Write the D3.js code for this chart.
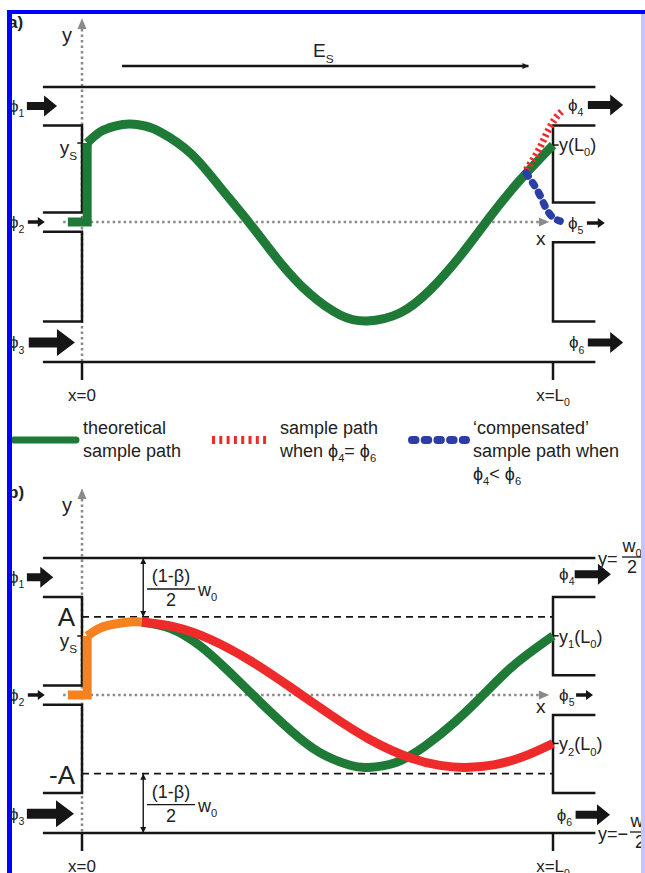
<!DOCTYPE html>
<html>
<head>
<meta charset="utf-8">
<script src="https://cdn.jsdelivr.net/npm/d3@7"></script>
<style>
  body { margin: 0; background: #fff; }
  svg { display: block; }
  text { font-family: "Liberation Sans", Arial, Helvetica, sans-serif; fill: #222; }
</style>
</head>
<body>
<script>
// x in % of L0, y in % of w0/2 (channel centre = 0)
var wallY = [100, -100]
var wallX = [-8.3, 109]
var inletBlocks = [[71.5, 7], [-7, -71]]
var outletBlocks = [[71.5, 14.5], [-14.5, -71]]
var fluxLevels = [86, 0, -86]
var inletNames = ['1', '2', '3']
var outletNames = ['4', '5', '6']
var ampA = 57

// panel a paths
var stemA = [[-3, 0], [1.1, 0], [1.1, 58.5]]
var theoryA = [[1.1, 58.5], [3.8, 66.7], [7.0, 71.1], [10.2, 72.6], [13.4, 71.1], [16.6, 66.7], [23.0, 51.1],
  [29.3, 25.9], [35.7, -1.4], [42.0, -28.6], [48.4, -51.4], [54.8, -66.4], [60.5, -70.7], [67.5, -65.0],
  [73.9, -48.6], [80.3, -24.3], [86.6, 3.7], [93.0, 31.1], [100, 57.0]]
var equalA = [[94.3, 38.5], [96.6, 51.1], [98.3, 63.0], [99.6, 71.9], [100.9, 78.5], [102.2, 83.0]]
var compA = [[94.3, 36.3], [96.0, 27.4], [97.3, 19.3], [98.5, 10.4], [99.9, 3.7], [101.5, 0.7]]

// panel b paths
var stemB = [[-3, 0], [1.1, 0], [1.1, 43.1]]
var entryB = [[1.1, 43.1], [3.8, 48.9], [7.0, 51.8], [10.2, 53.3], [12.7, 53.3]]
var pathB1 = [[12.7, 53.3], [18.7, 48.7], [25.1, 35.8], [31.4, 16.4], [37.8, -5.0], [44.2, -25.4], [50.5, -41.7],
  [56.9, -50.9], [60.7, -52.5], [66.5, -49.1], [72.8, -37.1], [79.2, -19.5], [85.6, 1.5], [91.9, 22.4], [100, 43.2]]
var pathB2 = [[12.7, 53.3], [19.8, 49.6], [27.2, 40.7], [35.7, 25.1], [44.2, 5.8], [52.7, -14.2], [61.1, -32.2],
  [69.6, -45.4], [76.0, -51.0], [81.3, -52.5], [87.7, -50.4], [94.1, -44.1], [100, -35.1]]

var legendLabels = [['theoretical', 'sample path'], ['sample path', 'when ϕ4= ϕ6'], ['\u2018compensated\u2019', 'sample path when', 'ϕ4< ϕ6']]

var ink = '#161616', green = '#1f7a37', red = '#ee2a2a', orange = '#f58220', blue = '#2c3ea6', grey = '#8a8a8a'

var svg = d3.select('body').append('svg').attr('width', 645).attr('height', 873)

var xs = d3.scaleLinear().domain([0, 100]).range([82, 553])
var yA = d3.scaleLinear().domain([-100, 0, 100]).range([362, 222, 87])
var yB = d3.scaleLinear().domain([-100, 0, 100]).range([833, 695, 558])

var defs = svg.append('defs')
defs.append('marker').attr('id', 'tip').attr('viewBox', '0 0 10 10').attr('refX', 10).attr('refY', 5)
  .attr('markerWidth', 7).attr('markerHeight', 6).attr('markerUnits', 'userSpaceOnUse')
  .attr('orient', 'auto-start-reverse')
  .append('path').attr('d', 'M0,0L10,5L0,10Z').attr('fill', ink)

// subscript-aware text
function rich(g, x, y, parts, fs, anchor) {
  var t = g.append('text').attr('x', x).attr('y', y).attr('font-size', fs).attr('text-anchor', anchor || 'start')
  var down = false
  parts.forEach(function (p) {
    var ts = t.append('tspan').text(p[0])
    if (p[1]) {
      ts.attr('font-size', fs * 0.62)
      if (!down) { ts.attr('dy', fs * 0.3); down = true }
    } else if (down) { ts.attr('dy', -fs * 0.3); down = false }
  })
  return t
}
function phiParts(s) { return [['ϕ', 0], [s, 1]] }

var arrowSizes = { small: [3.5, 7, 10], big: [8, 13, 21], huge: [10, 18, 27] }
function fluxArrow(g, x0, x1, cy, size) {
  var s = arrowSizes[size]
  var pts = [[x0, cy - s[0] / 2], [x1 - s[1], cy - s[0] / 2], [x1 - s[1], cy - s[2] / 2], [x1, cy],
    [x1 - s[1], cy + s[2] / 2], [x1 - s[1], cy + s[0] / 2], [x0, cy + s[0] / 2]]
  g.append('path').attr('d', d3.line()(pts) + 'Z').attr('fill', ink)
}

function drawPanel(p) {
  var y = p.y
  var g = svg.append('g')
  var line = d3.line().x(function (d) { return xs(d[0]) }).y(function (d) { return y(d[1]) })
  var smooth = d3.line().x(function (d) { return xs(d[0]) }).y(function (d) { return y(d[1]) })
    .curve(d3.curveNatural)

  // dotted axes
  g.append('line').attr('x1', xs(0)).attr('x2', xs(0)).attr('y1', y(143)).attr('y2', y(-100))
    .attr('stroke', grey).attr('stroke-width', 2.5).attr('stroke-dasharray', '2.5 3')
  g.append('path').attr('d', 'M' + (xs(0) - 4.5) + ',' + y(143) + 'L' + xs(0) + ',' + y(151) + 'L' + (xs(0) + 4.5) + ',' + y(143) + 'Z')
    .attr('fill', grey)
  g.append('line').attr('x1', xs(-4)).attr('x2', xs(97)).attr('y1', y(0)).attr('y2', y(0))
    .attr('stroke', grey).attr('stroke-width', 2.5).attr('stroke-dasharray', '2.5 3')
  g.append('path').attr('d', 'M' + xs(97) + ',' + (y(0) - 4.5) + 'L' + xs(99.2) + ',' + y(0) + 'L' + xs(97) + ',' + (y(0) + 4.5) + 'Z')
    .attr('fill', grey)

  // channel walls and electrode blocks
  g.selectAll('.wall').data(wallY).enter().append('line')
    .attr('x1', xs(wallX[0])).attr('x2', xs(wallX[1]))
    .attr('y1', function (d) { return y(d) }).attr('y2', function (d) { return y(d) })
    .attr('stroke', ink).attr('stroke-width', 2.5)
  g.selectAll('.inlet').data(inletBlocks).enter().append('path')
    .attr('d', function (d) { return 'M' + xs(wallX[0]) + ',' + y(d[0]) + 'H' + xs(0) + 'V' + y(d[1]) + 'H' + xs(wallX[0]) })
    .attr('fill', 'none').attr('stroke', ink).attr('stroke-width', 2.5)
  g.selectAll('.outlet').data(outletBlocks).enter().append('path')
    .attr('d', function (d) { return 'M' + xs(wallX[1]) + ',' + y(d[0]) + 'H' + xs(100) + 'V' + y(d[1]) + 'H' + xs(wallX[1]) })
    .attr('fill', 'none').attr('stroke', ink).attr('stroke-width', 2.5)

  // x ticks
  ;[0, 100].forEach(function (v) {
    g.append('line').attr('x1', xs(v)).attr('x2', xs(v)).attr('y1', y(-100)).attr('y2', y(-100) + 18)
      .attr('stroke', ink).attr('stroke-width', 2.5)
  })
  rich(g, xs(0), y(-100) + p.tickLab, [['x=0', 0]], 17, 'middle')
  rich(g, xs(100), y(-100) + p.tickLab, [['x=L', 0], ['0', 1]], 17, 'middle')

  // axis names
  g.append('text').attr('x', 62).attr('y', y(151) + 24).attr('font-size', 20).text('y')
  g.append('text').attr('x', 536).attr('y', y(0) + p.xLab).attr('font-size', 19).text('x')
  g.append('text').attr('x', 8).attr('y', y(151) + 10).attr('font-size', 17).attr('font-weight', 'bold').text(p.id + ')')

  // fluxes
  fluxLevels.forEach(function (lv, i) {
    fluxArrow(g, xs(p.inArrows[i][0]), xs(p.inArrows[i][1]), y(lv), p.inSizes[i])
    rich(g, 9, y(lv) + 6, phiParts(inletNames[i]), 17)
    fluxArrow(g, xs(p.outArrows[i][0]), xs(p.outArrows[i][1]), y(lv) + p.outShift[i], p.outSizes[i])
    rich(g, xs(p.outLab[i]), y(lv) + p.outShift[i] + 6, phiParts(outletNames[i]), 17)
  })

  // y_s marker
  g.append('line').attr('x1', xs(-1)).attr('x2', xs(0)).attr('y1', y(p.ys)).attr('y2', y(p.ys)).attr('stroke', ink).attr('stroke-width', 1.5)
  rich(g, 77, y(p.ys) + 11, [['y', 0], ['S', 1]], 19, 'end')

  p.draw(g, y, line, smooth)
}

drawPanel({
  id: 'a', y: yA, tickLab: 39, xLab: 23, ys: 58.5,
  inArrows: [[-11.7, -5.3], [-11.5, -7.9], [-11.3, -1.5]], inSizes: ['big', 'small', 'huge'],
  outArrows: [[107.4, 114.9], [107.2, 111.0], [107.4, 114.9]], outSizes: ['big', 'small', 'big'],
  outLab: [103.2, 103.2, 103.4], outShift: [-1, 1, 0],
  draw: function (g, y, line, smooth) {
    // applied field
    g.append('line').attr('x1', xs(8.5)).attr('x2', xs(94.8)).attr('y1', y(115.5)).attr('y2', y(115.5))
      .attr('stroke', ink).attr('stroke-width', 2.5).attr('marker-end', 'url(#tip)')
    rich(g, 313, y(115.5) - 9, [['E', 0], ['S', 1]], 19)

    g.append('path').attr('d', line(stemA)).attr('fill', 'none').attr('stroke', green).attr('stroke-width', 9)
    g.append('path').attr('d', smooth(theoryA)).attr('fill', 'none').attr('stroke', green).attr('stroke-width', 9)
    g.append('path').attr('d', smooth(equalA)).attr('fill', 'none').attr('stroke', red).attr('stroke-width', 7)
      .attr('stroke-dasharray', '2.5 3')
    g.append('path').attr('d', smooth(compA)).attr('fill', 'none').attr('stroke', blue).attr('stroke-width', 7.5)
      .attr('stroke-linecap', 'round').attr('stroke-dasharray', '3.5 8')

    g.append('line').attr('x1', xs(100)).attr('x2', xs(101.2)).attr('y1', y(57)).attr('y2', y(57)).attr('stroke', ink).attr('stroke-width', 1.5)
    rich(g, 559, y(57) + 6, [['y(L', 0], ['0', 1], [')', 0]], 18)
  }
})

drawPanel({
  id: 'b', y: yB, tickLab: 39, xLab: 18, ys: 43.1,
  inArrows: [[-11.7, -6.1], [-11.5, -7.9], [-11.7, -1.7]], inSizes: ['big', 'small', 'huge'],
  outArrows: [[104.6, 112.3], [104.9, 108.5], [104.8, 112.1]], outSizes: ['big', 'small', 'big'],
  outLab: [101.3, 101.3, 100.8], outShift: [-3, 0, 1],
  draw: function (g, y, line, smooth) {
    // +-A bounds
    ;[ampA, -ampA].forEach(function (v) {
      g.append('line').attr('x1', xs(0)).attr('x2', xs(100)).attr('y1', y(v)).attr('y2', y(v))
        .attr('stroke', ink).attr('stroke-width', 1.6).attr('stroke-dasharray', '7 5')
    })
    g.append('text').attr('x', 75).attr('y', y(ampA) + 9).attr('text-anchor', 'end').attr('font-size', 26).text('A')
    g.append('text').attr('x', 75).attr('y', y(-ampA) + 10).attr('text-anchor', 'end').attr('font-size', 26).text('-A')

    // gap widths
    ;[[100, ampA], [-ampA, -100]].forEach(function (r) {
      g.append('line').attr('x1', xs(13)).attr('x2', xs(13)).attr('y1', y(r[0])).attr('y2', y(r[1]))
        .attr('stroke', ink).attr('stroke-width', 1.4)
        .attr('marker-start', 'url(#tip)').attr('marker-end', 'url(#tip)')
      var top = y(r[0])
      g.append('text').attr('x', 171).attr('y', top + 24).attr('text-anchor', 'middle').attr('font-size', 18).text('(1-β)')
      g.append('line').attr('x1', 147).attr('x2', 195).attr('y1', top + 31).attr('y2', top + 31).attr('stroke', ink).attr('stroke-width', 1.3)
      g.append('text').attr('x', 171).attr('y', top + 48).attr('text-anchor', 'middle').attr('font-size', 18).text('2')
      rich(g, 198, top + 38, [['w', 0], ['0', 1]], 18)
    })

    // wall labels
    var t = y(100), b = y(-100)
    rich(g, 598, t + 7, [['y=', 0]], 18)
    rich(g, 632, t - 6, [['w', 0], ['0', 1]], 18, 'middle')
    g.append('line').attr('x1', 622).attr('x2', 643).attr('y1', t - 1).attr('y2', t - 1).attr('stroke', ink).attr('stroke-width', 1.3)
    g.append('text').attr('x', 632).attr('y', t + 15).attr('text-anchor', 'middle').attr('font-size', 18).text('2')
    rich(g, 598, b + 7, [['y=\u2212', 0]], 18)
    rich(g, 640, b - 6, [['w', 0], ['0', 1]], 18, 'middle')
    g.append('line').attr('x1', 630).attr('x2', 652).attr('y1', b - 1).attr('y2', b - 1).attr('stroke', ink).attr('stroke-width', 1.3)
    g.append('text').attr('x', 640).attr('y', b + 15).attr('text-anchor', 'middle').attr('font-size', 18).text('2')

    // paths
    g.append('path').attr('d', smooth(pathB1)).attr('fill', 'none').attr('stroke', green).attr('stroke-width', 9)
    g.append('path').attr('d', smooth(pathB2)).attr('fill', 'none').attr('stroke', red).attr('stroke-width', 9)
    g.append('path').attr('d', line(stemB)).attr('fill', 'none').attr('stroke', orange).attr('stroke-width', 9)
    g.append('path').attr('d', smooth(entryB)).attr('fill', 'none').attr('stroke', orange).attr('stroke-width', 9)

    ;[[43.2, '1'], [-35.1, '2']].forEach(function (e) {
      g.append('line').attr('x1', xs(100)).attr('x2', xs(101.2)).attr('y1', y(e[0])).attr('y2', y(e[0])).attr('stroke', ink).attr('stroke-width', 1.5)
      rich(g, 559, y(e[0]) + 7, [['y', 0], [e[1], 1], ['(L', 0], ['0', 1], [')', 0]], 18)
    })
  }
})

// legend
var lg = svg.append('g')
lg.append('line').attr('x1', 14).attr('x2', 76).attr('y1', 440).attr('y2', 440)
  .attr('stroke', green).attr('stroke-width', 7).attr('stroke-linecap', 'round')
lg.append('line').attr('x1', 212).attr('x2', 270).attr('y1', 440).attr('y2', 440)
  .attr('stroke', red).attr('stroke-width', 8).attr('stroke-dasharray', '3 4.3')
lg.append('line').attr('x1', 412).attr('x2', 466).attr('y1', 440).attr('y2', 440)
  .attr('stroke', blue).attr('stroke-width', 8).attr('stroke-linecap', 'round').attr('stroke-dasharray', '3.5 9.2')
var legX = [83, 280, 473]
legendLabels.forEach(function (rows, i) {
  rows.forEach(function (r, j) {
    var parts = []
    r.split(/(\d)/).forEach(function (s, k) { if (s) parts.push([s, k % 2]) })
    rich(lg, legX[i], 434 + j * 23, parts, 18)
  })
})

// page frame
svg.append('rect').attr('x', 641).attr('y', 10).attr('width', 4).attr('height', 863).attr('fill', '#c6c6f6')
svg.append('rect').attr('x', 7).attr('y', 10).attr('width', 638).attr('height', 4).attr('fill', '#0000ff')
svg.append('rect').attr('x', 7).attr('y', 10).attr('width', 5).attr('height', 863).attr('fill', '#0000ff')
</script>
</body>
</html>
